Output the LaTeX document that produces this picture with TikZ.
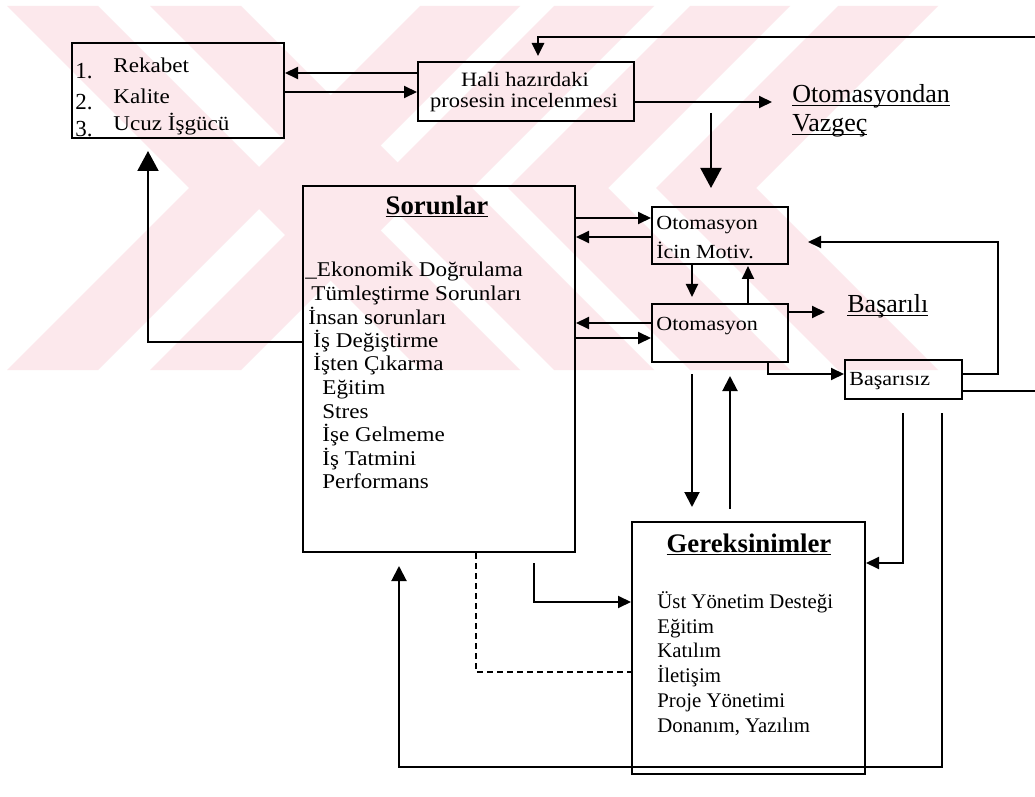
\documentclass[tikz,border=0pt]{standalone}
\usepackage{fontspec}
\setmainfont{Liberation Serif}
\newfontfamily\scanfont{Liberation Serif}[FakeStretch=1.1]
\usetikzlibrary{arrows.meta,fit}

\definecolor{wmpink}{RGB}{252,232,236}

% underline set close to the baseline
\newcommand{\ulbase}[1]{\setbox0=\hbox{#1}\rlap{\rule[-1.6pt]{\wd0}{0.7pt}}\box0}

\tikzset{
  box/.style={draw, line width=1pt, inner sep=0pt},
  lst/.style={inner sep=0pt, anchor=base west, font=\scanfont\fontsize{10.5}{12}\selectfont},
  num/.style={inner sep=0pt, anchor=base west, font=\fontsize{11.5}{13}\selectfont},
  bxt/.style={inner sep=0pt, anchor=base west, font=\scanfont\fontsize{10}{12}\selectfont},
  ctr/.style={inner sep=0pt, anchor=base, font=\scanfont\fontsize{10.2}{12}\selectfont},
  req/.style={inner sep=0pt, anchor=base west, font=\fontsize{10.4}{12}\selectfont},
  outc/.style={inner sep=0pt, anchor=base west, font=\fontsize{13}{15}\selectfont},
  ttl/.style={inner sep=0pt, anchor=base, font=\bfseries\fontsize{13.4}{15}\selectfont},
  link/.style={line width=1pt},
  arr/.style={link, -{Triangle[length=6.5pt,width=6pt]}},
  midarr/.style={link, -{Triangle[length=7.5pt,width=7.5pt]}},
  bigarr/.style={link, -{Triangle[length=10pt,width=10.5pt]}},
  dashline/.style={line width=0.9pt, dash pattern=on 3pt off 2pt},
}

\begin{document}
\begin{tikzpicture}[x=0.5pt, y=-0.5pt]
\useasboundingbox (0,0) rectangle (1035,797);
\clip (0,0) rectangle (1035,797);
\fill[white] (0,0) rectangle (1035,797);

% background chevron band
\foreach \a in {7,150}
  \fill[wmpink] (\a,6) -- ({\a+91},6) -- ({\a+273},188) -- ({\a+91},370)
     -- (\a,370) -- ({\a+182},188) -- cycle;
\foreach \a in {420,554,690,838}
  \fill[wmpink] (\a,6) -- ({\a+100},6) -- ({\a-82},188) -- ({\a+100},370)
     -- (\a,370) -- ({\a-182},188) -- cycle;

% ---------- boxes ----------
\node[box, fit={(72,43) (284,138)}] (A) {};
\node[box, fit={(418,62) (634,121)}] (B) {};
\node[box, fit={(303,186) (575,552)}] (S) {};
\node[box, fit={(652,207) (788,264)}] (M) {};
\node[box, fit={(652,304) (788,362)}] (O) {};
\node[box, fit={(845,360) (962,399)}] (F) {};
\node[box, fit={(632,522) (865,774)}] (G) {};

% ---------- texts ----------
\node[num] (n1) at (75,79) {1.};
\node[num] (n2) at (75,110) {2.};
\node[num] (n3) at (75,137) {3.};
\node[lst] (w1) at (113,73) {Rekabet};
\node[lst] (w2) at (113,104) {Kalite};
\node[lst] (w3) at (113,131) {Ucuz İşgücü};

\node[ctr] (b1) at (525,87) {Hali hazırdaki};
\node[ctr] (b2) at (524,108) {prosesin incelenmesi};

\node[outc] (v1) at (792,103) {\ulbase{Otomasyondan}};
\node[outc] (v2) at (792,132) {\ulbase{Vazgeç}};

\node[ttl] (st) at (437,214) {\ulbase{Sorunlar}};
\node[lst] (s1) at (305,277) {\_Ekonomik Doğrulama};
\node[lst] (s2) at (311,300.5) {Tümleştirme Sorunları};
\node[lst] (s3) at (308,324) {İnsan sorunları};
\node[lst] (s4) at (313,347.5) {İş Değiştirme};
\node[lst] (s5) at (313,371) {İşten Çıkarma};
\node[lst] (s6) at (322,394.5) {Eğitim};
\node[lst] (s7) at (322,418) {Stres};
\node[lst] (s8) at (322,441.5) {İşe Gelmeme};
\node[lst] (s9) at (322,465) {İş Tatmini};
\node[lst] (s10) at (322,488.5) {Performans};

\node[bxt] (m1) at (656,229) {Otomasyon};
\node[bxt] (m2) at (656,258) {İcin Motiv.};
\node[bxt] (o1) at (656,330) {Otomasyon};
\node[outc] (ok) at (847,313) {\ulbase{Başarılı}};
\node[bxt] (f1) at (849,386) {Başarısız};

\node[ttl] (gt) at (749,552) {\ulbase{Gereksinimler}};
\node[req] (g1) at (657,608) {Üst Yönetim Desteği};
\node[req] (g2) at (657,633) {Eğitim};
\node[req] (g3) at (657,657) {Katılım};
\node[req] (g4) at (657,682) {İletişim};
\node[req] (g5) at (657,707) {Proje Yönetimi};
\node[req] (g6) at (657,732) {Donanım, Yazılım};

% ---------- connectors ----------
\draw[arr] (B.west |- 0,73) -- (A.east |- 0,73);
\draw[arr] (A.east |- 0,92) -- (B.west |- 0,92);

\draw[arr, line width=1.3pt, shorten >=2.5pt] (F.east |- 0,391) -- (1045,391)
  -- (1045,37) -- (538,37) -- (538,0 |- B.north);

\draw[arr, shorten >=10pt] (B.east |- 0,102) -- (v1.west |- 0,102);
\coordinate (d0) at (711,113);
\draw[bigarr, shorten >=9pt] (d0) -- (d0 |- M.north);

\draw[bigarr, shorten >=6pt] (S.west |- 0,342) -- (148,342) -- (148,0 |- A.south);

\draw[arr] (S.east |- 0,218) -- (M.west |- 0,218);
\draw[arr] (M.west |- 0,237) -- (S.east |- 0,237);
\draw[arr] (O.west |- 0,323) -- (S.east |- 0,323);
\draw[arr] (S.east |- 0,338) -- (O.west |- 0,338);

\draw[arr, shorten >=3pt] (692,0 |- M.south) -- (692,0 |- O.north);
\draw[arr, shorten >=0.5pt] (748,0 |- O.north) -- (748,0 |- M.south);

\draw[arr, shorten >=11pt] (O.east |- 0,312) -- (ok.west |- 0,312);
\draw[arr] (768,0 |- O.south) -- (768,374) -- (F.west |- 0,374);
\draw[arr, shorten >=9.5pt] (F.east |- 0,374) -- (998,374) -- (998,242) -- (M.east |- 0,242);

\draw[midarr, shorten <=5.5pt, shorten >=7pt] (692,0 |- O.south) -- (692,0 |- G.north);
\draw[midarr, shorten <=6pt, shorten >=6.5pt] (730,0 |- G.north) -- (730,0 |- O.south);

\draw[arr, shorten <=6.5pt] (903,0 |- F.south) -- (903,563) -- (G.east |- 0,563);
\draw[midarr, shorten <=6.5pt, shorten >=6.5pt] (942,0 |- F.south) -- (942,767)
  -- (399,767) -- (399,0 |- S.south);

\draw[arr, shorten <=5pt] (534,0 |- S.south) -- (534,602) -- (G.west |- 0,602);
\draw[dashline] (476,0 |- S.south) -- (476,672) -- (G.west |- 0,672);
\end{tikzpicture}
\end{document}
